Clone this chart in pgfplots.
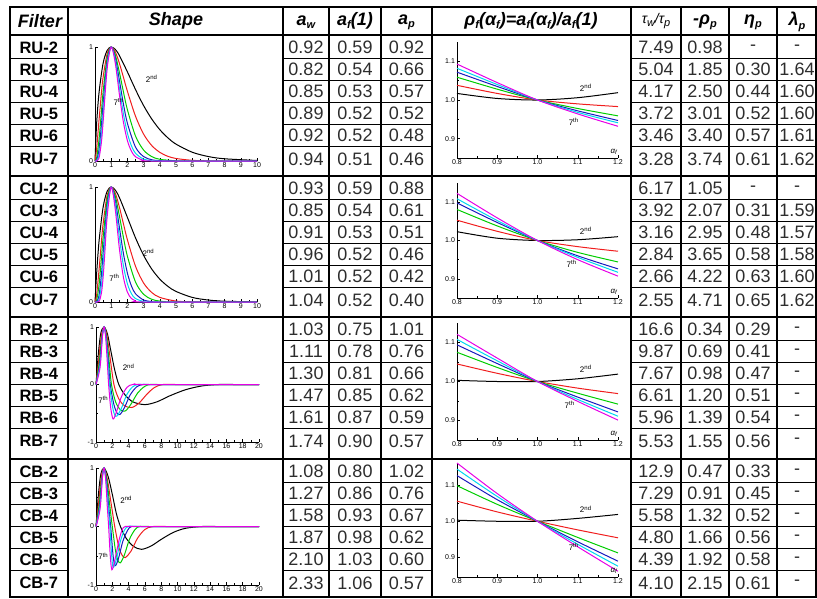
\documentclass[border=0pt]{standalone}
\usepackage{fontspec}
\setmainfont{Liberation Sans}
\usepackage{pgfplots}
\pgfplotsset{compat=1.18}

\definecolor{cgreen}{RGB}{0,205,0}
\definecolor{cblue}{RGB}{25,25,190}
\definecolor{ccyan}{RGB}{0,215,240}
\definecolor{cmag}{RGB}{230,0,230}
\definecolor{cred}{RGB}{240,30,30}
\definecolor{numgray}{RGB}{45,45,45}

\newcommand\sub[1]{\raisebox{-0.35ex}{\fontsize{11}{11}\selectfont #1}}
\newcommand\hf{\fontsize{18}{18}\selectfont\bfseries\itshape}
\newcommand\nf{\fontsize{18}{18}\selectfont\color{numgray}}
\newcommand\lf{\fontsize{16.5}{16.5}\selectfont\bfseries}
\newcommand\af{\fontsize{7}{7}\selectfont}
\newcommand\anf{\fontsize{8}{8}\selectfont}

% y, label, aw, af, ap, tau, rho, eta, lambda
\newcommand\trow[9]{%
  \node[anchor=west,font=\lf] at (16,#1) {#2};
  \node[font=\nf] at (306,#1) {#3};
  \node[font=\nf] at (355,#1) {#4};
  \node[font=\nf] at (406.5,#1) {#5};
  \node[font=\nf] at (656,#1) {#6};
  \node[font=\nf] at (705,#1) {#7};
  \node[font=\nf] at (753,#1) {#8};
  \node[font=\nf] at (797,#1) {#9};
}

\pgfplotsset{
  mini/.style={scale only axis, axis lines*=left, clip=false, enlargelimits=false,
    tick align=inside, major tick length=3pt, minor tick length=1.6pt,
    tick style={black, line width=0.5pt},
    axis line style={black, line width=0.8pt},
    tick label style={font=\af},
    xticklabel style={yshift=1.5pt},
    yticklabel style={xshift=1.5pt},
    /pgf/number format/assume math mode=true,
    every axis plot/.append style={line width=1pt, smooth, no marks}},
  shapeU/.style={mini, xmin=0, xmax=10, ymin=0, ymax=1, width=162pt,
    xtick={0,1,...,10}, ytick={0,1}, minor x tick num=1},
  shapeB/.style={mini, xmin=0, xmax=20, ymin=-1, ymax=1, width=163pt,
    xtick={0,2,...,20}, ytick={-1,0,1}, minor x tick num=1, minor y tick num=1},
  rho/.style={mini, xmin=0.8, xmax=1.2, width=161pt,
    xtick={0.8,0.9,1.0,1.1,1.2}, xticklabels={0.8,0.9,1.0,1.1,1.2},
    ytick={0.9,1.0,1.1}, yticklabels={0.9,1.0,1.1},
    minor x tick num=1, minor y tick num=1},
}

\begin{document}
\begin{tikzpicture}[x=1pt,y=-1pt]
\path[use as bounding box] (0,0) rectangle (817,598);

% ---------------- RU shape ----------------
\begin{axis}[shapeU, height=114pt, at={(95pt,-161pt)}, anchor=south west]
\addplot[black] coordinates {(0,0) (0.1,0.326) (0.25,0.601) (0.5,0.857) (0.75,0.970) (1,1) (1.25,0.979) (1.5,0.927) (2,0.782) (2.5,0.627) (3,0.486) (3.5,0.369) (4,0.275) (4.5,0.203) (5,0.148) (6,0.077) (7,0.039) (8,0.0195) (10,0.0047)};
\addplot[cred] coordinates {(0,0) (0.1,0.106) (0.25,0.361) (0.4,0.603) (0.5,0.734) (0.75,0.941) (1,1) (1.25,0.958) (1.5,0.860) (1.75,0.737) (2,0.612) (2.5,0.393) (3,0.236) (3.5,0.136) (4,0.076) (4.5,0.041) (5,0.022) (6,0.006) (7,0.0015) (8,0) (10,0)};
\addplot[cgreen] coordinates {(0,0) (0.1,0.026) (0.25,0.191) (0.4,0.439) (0.5,0.605) (0.75,0.907) (1,1) (1.25,0.932) (1.5,0.782) (1.75,0.610) (2,0.450) (2.5,0.219) (3,0.096) (3.5,0.039) (4,0.015) (5,0.002) (6,0) (10,0)};
\addplot[cblue] coordinates {(0,0) (0.1,0.006) (0.25,0.101) (0.4,0.320) (0.5,0.499) (0.75,0.873) (1,1) (1.25,0.908) (1.5,0.712) (1.75,0.504) (2,0.331) (2.5,0.122) (3,0.039) (3.5,0.011) (4,0.003) (5,0) (10,0)};
\addplot[ccyan] coordinates {(0,0) (0.1,0.002) (0.25,0.054) (0.4,0.233) (0.5,0.411) (0.75,0.841) (1,1) (1.25,0.884) (1.5,0.647) (1.75,0.417) (2,0.244) (2.25,0.133) (2.5,0.068) (3,0.016) (3.5,0.003) (4,0) (10,0)};
\addplot[cmag] coordinates {(0,0) (0.1,0) (0.25,0.028) (0.4,0.170) (0.5,0.339) (0.75,0.810) (1,1) (1.25,0.860) (1.5,0.589) (1.75,0.344) (2,0.179) (2.25,0.086) (2.5,0.038) (3,0.006) (3.5,0) (10,0)};
\node[font=\anf] at (axis cs:3.5,0.72) {2\textsuperscript{nd}};
\node[font=\anf] at (axis cs:1.45,0.52) {7\textsuperscript{th}};
\end{axis}

% ---------------- CU shape ----------------
\begin{axis}[shapeU, height=115pt, at={(95pt,-302pt)}, anchor=south west]
\addplot[black] coordinates {(0,0) (0.1,0.246) (0.25,0.529) (0.5,0.824) (0.75,0.963) (1,1) (1.25,0.974) (1.5,0.910) (2,0.736) (2.5,0.558) (3,0.406) (3.5,0.287) (4,0.199) (4.5,0.136) (5,0.092) (6,0.040) (7,0.017) (8,0.007) (10,0.001)};
\addplot[cred] coordinates {(0,0) (0.1,0.061) (0.25,0.280) (0.4,0.531) (0.5,0.679) (0.75,0.927) (1,1) (1.25,0.948) (1.5,0.828) (1.75,0.683) (2,0.541) (2.5,0.311) (3,0.165) (3.5,0.083) (4,0.040) (5,0.008) (6,0.002) (7,0) (10,0)};
\addplot[cgreen] coordinates {(0,0) (0.1,0.015) (0.25,0.148) (0.4,0.387) (0.5,0.560) (0.75,0.893) (1,1) (1.25,0.922) (1.5,0.753) (1.75,0.565) (2,0.398) (2.5,0.174) (3,0.067) (3.5,0.024) (4,0.008) (5,0) (10,0)};
\addplot[cblue] coordinates {(0,0) (0.1,0.002) (0.25,0.057) (0.4,0.241) (0.5,0.419) (0.75,0.844) (1,1) (1.25,0.886) (1.5,0.654) (1.75,0.425) (2,0.251) (2.25,0.139) (2.5,0.072) (3,0.017) (3.5,0.004) (4,0) (10,0)};
\addplot[ccyan] coordinates {(0,0) (0.1,0) (0.25,0.022) (0.4,0.150) (0.5,0.314) (0.75,0.798) (1,1) (1.25,0.851) (1.5,0.567) (1.75,0.319) (2,0.159) (2.25,0.072) (2.5,0.030) (3,0.005) (3.5,0) (10,0)};
\addplot[cmag] coordinates {(0,0) (0.25,0.006) (0.4,0.080) (0.5,0.213) (0.6,0.412) (0.75,0.740) (1,1) (1.25,0.806) (1.5,0.470) (1.75,0.218) (2,0.086) (2.25,0.030) (2.5,0.009) (3,0) (10,0)};
\node[font=\anf] at (axis cs:3.3,0.43) {2\textsuperscript{nd}};
\node[font=\anf] at (axis cs:1.2,0.21) {7\textsuperscript{th}};
\end{axis}

% ---------------- RB shape ----------------
\begin{axis}[shapeB, height=115pt, at={(96pt,-442pt)}, anchor=south west]
\addplot[black] coordinates {(0,0) (0.3,0.55) (0.6,0.9) (1,1) (1.4,0.88) (1.8,0.6) (2.3,0.25) (2.8,0) (3.5,-0.17) (4.5,-0.3) (6,-0.35) (7.5,-0.3) (9,-0.2) (11,-0.09) (13,-0.025) (15,0) (17,0) (20,0)};
\addplot[cred] coordinates {(0,0) (0.35,0.45) (0.65,0.85) (1,1) (1.35,0.85) (1.7,0.5) (2.2,0) (2.8,-0.25) (3.5,-0.37) (4.4,-0.40) (5.3,-0.32) (6.3,-0.16) (7.2,-0.05) (8.2,0) (10,0) (20,0)};
\addplot[cgreen] coordinates {(0,0) (0.4,0.38) (0.7,0.82) (1,1) (1.3,0.82) (1.6,0.42) (1.9,0) (2.4,-0.3) (3,-0.44) (3.6,-0.46) (4.3,-0.34) (5.1,-0.15) (5.9,-0.04) (6.6,0) (8,0) (20,0)};
\addplot[cblue] coordinates {(0,0) (0.45,0.35) (0.75,0.82) (1,1) (1.25,0.82) (1.5,0.42) (1.75,0) (2.2,-0.35) (2.6,-0.5) (2.95,-0.52) (3.5,-0.4) (4.2,-0.18) (5,-0.04) (5.8,0) (7,0) (20,0)};
\addplot[ccyan] coordinates {(0,0) (0.5,0.35) (0.78,0.84) (1,1) (1.22,0.82) (1.45,0.4) (1.65,0) (2.05,-0.4) (2.3,-0.53) (2.55,-0.55) (3.1,-0.42) (3.8,-0.17) (4.5,-0.04) (5.2,0) (6.5,0) (20,0)};
\addplot[cmag] coordinates {(0,0) (0.5,0.3) (0.8,0.85) (1,1) (1.2,0.8) (1.4,0.35) (1.55,0) (1.8,-0.4) (2.1,-0.6) (2.5,-0.48) (3.1,-0.22) (3.8,-0.05) (4.5,0) (6,0) (20,0)};
\node[font=\anf] at (axis cs:4.0,0.3) {2\textsuperscript{nd}};
\node[font=\anf] at (axis cs:0.9,-0.27) {7\textsuperscript{th}};
\end{axis}

% ---------------- CB shape ----------------
\begin{axis}[shapeB, height=117pt, at={(96pt,-585pt)}, anchor=south west]
\addplot[black] coordinates {(0,0) (0.3,0.55) (0.6,0.9) (1,1) (1.5,0.85) (2,0.55) (2.5,0.22) (3,0) (3.7,-0.2) (4.6,-0.34) (5.6,-0.39) (6.8,-0.33) (8,-0.22) (9.5,-0.1) (11,-0.03) (13,0) (15,0) (20,0)};
\addplot[cred] coordinates {(0,0) (0.35,0.45) (0.65,0.85) (1,1) (1.4,0.8) (1.85,0.4) (2.3,0) (2.8,-0.35) (3.2,-0.49) (3.6,-0.53) (4.3,-0.42) (5.1,-0.2) (6,-0.05) (7,0) (9,0) (20,0)};
\addplot[cgreen] coordinates {(0,0) (0.4,0.38) (0.7,0.82) (1,1) (1.35,0.78) (1.7,0.35) (2,0) (2.4,-0.42) (2.7,-0.58) (3,-0.62) (3.5,-0.48) (4.1,-0.22) (4.8,-0.05) (5.4,0) (7,0) (20,0)};
\addplot[cblue] coordinates {(0,0) (0.45,0.35) (0.75,0.82) (1,1) (1.3,0.75) (1.55,0.35) (1.8,0) (2.1,-0.5) (2.35,-0.67) (2.75,-0.55) (3.3,-0.25) (3.9,-0.06) (4.4,0) (6,0) (20,0)};
\addplot[ccyan] coordinates {(0,0) (0.5,0.35) (0.78,0.84) (1,1) (1.25,0.75) (1.48,0.35) (1.7,0) (1.9,-0.45) (2.1,-0.7) (2.5,-0.56) (3,-0.25) (3.5,-0.06) (4,0) (5.5,0) (20,0)};
\addplot[cmag] coordinates {(0,0) (0.5,0.3) (0.8,0.85) (1,1) (1.2,0.78) (1.38,0.35) (1.55,0) (1.75,-0.5) (1.95,-0.74) (2.3,-0.58) (2.8,-0.25) (3.2,-0.06) (3.6,0) (5,0) (20,0)};
\node[font=\anf] at (axis cs:3.7,0.46) {2\textsuperscript{nd}};
\node[font=\anf] at (axis cs:0.9,-0.51) {7\textsuperscript{th}};
\end{axis}

% ---------------- rho plots ----------------
\begin{axis}[rho, ymin=0.85, ymax=1.15, height=116pt, at={(457pt,-158pt)}, anchor=south west]
\addplot[black] coordinates {(0.8,1.017) (0.9,1.004) (1.0,1.0) (1.1,1.006) (1.2,1.019)};
\addplot[cred] coordinates {(0.8,1.038) (0.9,1.017) (1.0,1.0) (1.1,0.990) (1.2,0.983)};
\addplot[cgreen] coordinates {(0.8,1.059) (0.9,1.028) (1.0,1.0) (1.1,0.978) (1.2,0.959)};
\addplot[cblue] coordinates {(0.8,1.072) (0.9,1.035) (1.0,1.0) (1.1,0.972) (1.2,0.947)};
\addplot[ccyan] coordinates {(0.8,1.082) (0.9,1.040) (1.0,1.0) (1.1,0.968) (1.2,0.941)};
\addplot[cmag] coordinates {(0.8,1.093) (0.9,1.045) (1.0,1.0) (1.1,0.964) (1.2,0.932)};
\node[font=\anf] at (axis cs:1.12,1.031) {2\textsuperscript{nd}};
\node[font=\anf] at (axis cs:1.09,0.943) {7\textsuperscript{th}};
\node[font=\anf] at (axis cs:1.19,0.866) {\itshape α\textsubscript{f}};
\end{axis}

\begin{axis}[rho, ymin=0.85, ymax=1.15, height=115pt, at={(457pt,-298pt)}, anchor=south west]
\addplot[black] coordinates {(0.8,1.023) (0.9,1.006) (1.0,1.0) (1.1,1.002) (1.2,1.010)};
\addplot[cred] coordinates {(0.8,1.053) (0.9,1.024) (1.0,1.0) (1.1,0.984) (1.2,0.972)};
\addplot[cgreen] coordinates {(0.8,1.081) (0.9,1.038) (1.0,1.0) (1.1,0.969) (1.2,0.944)};
\addplot[cblue] coordinates {(0.8,1.098) (0.9,1.047) (1.0,1.0) (1.1,0.960) (1.2,0.926)};
\addplot[ccyan] coordinates {(0.8,1.109) (0.9,1.052) (1.0,1.0) (1.1,0.956) (1.2,0.917)};
\addplot[cmag] coordinates {(0.8,1.123) (0.9,1.059) (1.0,1.0) (1.1,0.950) (1.2,0.907)};
\node[font=\anf] at (axis cs:1.12,1.025) {2\textsuperscript{nd}};
\node[font=\anf] at (axis cs:1.085,0.94) {7\textsuperscript{th}};
\node[font=\anf] at (axis cs:1.19,0.866) {\itshape α\textsubscript{f}};
\end{axis}

\begin{axis}[rho, ymin=0.85, ymax=1.15, height=117pt, at={(457pt,-440pt)}, anchor=south west]
\addplot[black] coordinates {(0.8,1.003) (0.9,1.0) (1.0,1.0) (1.1,1.007) (1.2,1.019)};
\addplot[cred] coordinates {(0.8,1.045) (0.9,1.021) (1.0,1.0) (1.1,0.983) (1.2,0.969)};
\addplot[cgreen] coordinates {(0.8,1.075) (0.9,1.036) (1.0,1.0) (1.1,0.970) (1.2,0.942)};
\addplot[cblue] coordinates {(0.8,1.094) (0.9,1.046) (1.0,1.0) (1.1,0.960) (1.2,0.922)};
\addplot[ccyan] coordinates {(0.8,1.108) (0.9,1.053) (1.0,1.0) (1.1,0.954) (1.2,0.911)};
\addplot[cmag] coordinates {(0.8,1.121) (0.9,1.060) (1.0,1.0) (1.1,0.949) (1.2,0.901)};
\node[font=\anf] at (axis cs:1.12,1.032) {2\textsuperscript{nd}};
\node[font=\anf] at (axis cs:1.08,0.94) {7\textsuperscript{th}};
\node[font=\anf] at (axis cs:1.19,0.866) {\itshape α\textsubscript{f}};
\end{axis}

\begin{axis}[rho, ymin=0.845, ymax=1.162, height=114pt, at={(457pt,-577pt)}, anchor=south west]
\addplot[black] coordinates {(0.8,1.003) (0.9,1.0) (1.0,1.0) (1.1,1.008) (1.2,1.019)};
\addplot[cred] coordinates {(0.8,1.056) (0.9,1.026) (1.0,1.0) (1.1,0.976) (1.2,0.954)};
\addplot[cgreen] coordinates {(0.8,1.099) (0.9,1.047) (1.0,1.0) (1.1,0.955) (1.2,0.912)};
\addplot[cblue] coordinates {(0.8,1.127) (0.9,1.060) (1.0,1.0) (1.1,0.943) (1.2,0.889)};
\addplot[ccyan] coordinates {(0.8,1.145) (0.9,1.069) (1.0,1.0) (1.1,0.936) (1.2,0.875)};
\addplot[cmag] coordinates {(0.8,1.162) (0.9,1.077) (1.0,1.0) (1.1,0.929) (1.2,0.861)};
\node[font=\anf] at (axis cs:1.12,1.033) {2\textsuperscript{nd}};
\node[font=\anf] at (axis cs:1.09,0.93) {7\textsuperscript{th}};
\node[font=\anf] at (axis cs:1.19,0.862) {\itshape α\textsubscript{f}};
\end{axis}

% ---------------- table grid ----------------
\begin{scope}[line cap=rect]
\foreach \x in {68,283,329,381,432,631,681,729,777} \draw[line width=2.2pt] (\x,7) -- (\x,35);
\foreach \x in {283,329,381,432,631,681,729,777} \draw[line width=1.2pt] (\x,35) -- (\x,597);
\draw[line width=2.5pt] (68,7) -- (68,597);
\draw[line width=2.5pt] (10,7) -- (10,597);
\draw[line width=2pt] (816,7) -- (816,597);
\foreach \y in {7,35,176,317,459} \draw[line width=2.8pt] (10,\y) -- (816,\y);
\draw[line width=2pt] (10,596.5) -- (816,596.5);
\foreach \T in {35,176,317,459}{
  \foreach \k in {0,...,4}{
    \pgfmathsetmacro\yy{\T+23.5+22*\k}
    \draw[line width=1pt] (10,\yy) -- (68,\yy);
    \draw[line width=1pt] (283,\yy) -- (432,\yy);
    \draw[line width=1pt] (631,\yy) -- (816,\yy);
  }
}
\end{scope}

% ---------------- header ----------------
\node[font=\hf] at (40,21) {Filter};
\node[font=\hf] at (176,21) {Shape};
\node[font=\hf] at (306,22) {a\sub{w}};
\node[font=\hf] at (355,21) {a\sub{f}(1)};
\node[font=\hf] at (406.5,22) {a\sub{p}};
\node[font=\hf] at (531,21) {ρ\sub{f}(α\sub{f})=a\sub{f}(α\sub{f})/a\sub{f}(1)};
\node[font=\fontsize{14}{14}\selectfont\itshape] at (656,21) {τ\sub{w}/τ\sub{p}};
\node[font=\hf] at (705,22) {-ρ\sub{p}};
\node[font=\hf] at (753,22) {η\sub{p}};
\node[font=\hf] at (797,22) {λ\sub{p}};

% ---------------- rows ----------------
\trow{47.5}{RU-2}{0.92}{0.59}{0.92}{7.49}{0.98}{-}{-}
\trow{69.5}{RU-3}{0.82}{0.54}{0.66}{5.04}{1.85}{0.30}{1.64}
\trow{91.5}{RU-4}{0.85}{0.53}{0.57}{4.17}{2.50}{0.44}{1.60}
\trow{113.5}{RU-5}{0.89}{0.52}{0.52}{3.72}{3.01}{0.52}{1.60}
\trow{135.5}{RU-6}{0.92}{0.52}{0.48}{3.46}{3.40}{0.57}{1.61}
\trow{159}{RU-7}{0.94}{0.51}{0.46}{3.28}{3.74}{0.61}{1.62}
\trow{188.5}{CU-2}{0.93}{0.59}{0.88}{6.17}{1.05}{-}{-}
\trow{210.5}{CU-3}{0.85}{0.54}{0.61}{3.92}{2.07}{0.31}{1.59}
\trow{232.5}{CU-4}{0.91}{0.53}{0.51}{3.16}{2.95}{0.48}{1.57}
\trow{254.5}{CU-5}{0.96}{0.52}{0.46}{2.84}{3.65}{0.58}{1.58}
\trow{276.5}{CU-6}{1.01}{0.52}{0.42}{2.66}{4.22}{0.63}{1.60}
\trow{300}{CU-7}{1.04}{0.52}{0.40}{2.55}{4.71}{0.65}{1.62}
\trow{329.5}{RB-2}{1.03}{0.75}{1.01}{16.6}{0.34}{0.29}{-}
\trow{351.5}{RB-3}{1.11}{0.78}{0.76}{9.87}{0.69}{0.41}{-}
\trow{373.5}{RB-4}{1.30}{0.81}{0.66}{7.67}{0.98}{0.47}{-}
\trow{395.5}{RB-5}{1.47}{0.85}{0.62}{6.61}{1.20}{0.51}{-}
\trow{417.5}{RB-6}{1.61}{0.87}{0.59}{5.96}{1.39}{0.54}{-}
\trow{441}{RB-7}{1.74}{0.90}{0.57}{5.53}{1.55}{0.56}{-}
\trow{471.5}{CB-2}{1.08}{0.80}{1.02}{12.9}{0.47}{0.33}{-}
\trow{493.5}{CB-3}{1.27}{0.86}{0.76}{7.29}{0.91}{0.45}{-}
\trow{515.5}{CB-4}{1.58}{0.93}{0.67}{5.58}{1.32}{0.52}{-}
\trow{537.5}{CB-5}{1.87}{0.98}{0.62}{4.80}{1.66}{0.56}{-}
\trow{559.5}{CB-6}{2.10}{1.03}{0.60}{4.39}{1.92}{0.58}{-}
\trow{583}{CB-7}{2.33}{1.06}{0.57}{4.10}{2.15}{0.61}{-}
\end{tikzpicture}
\end{document}
